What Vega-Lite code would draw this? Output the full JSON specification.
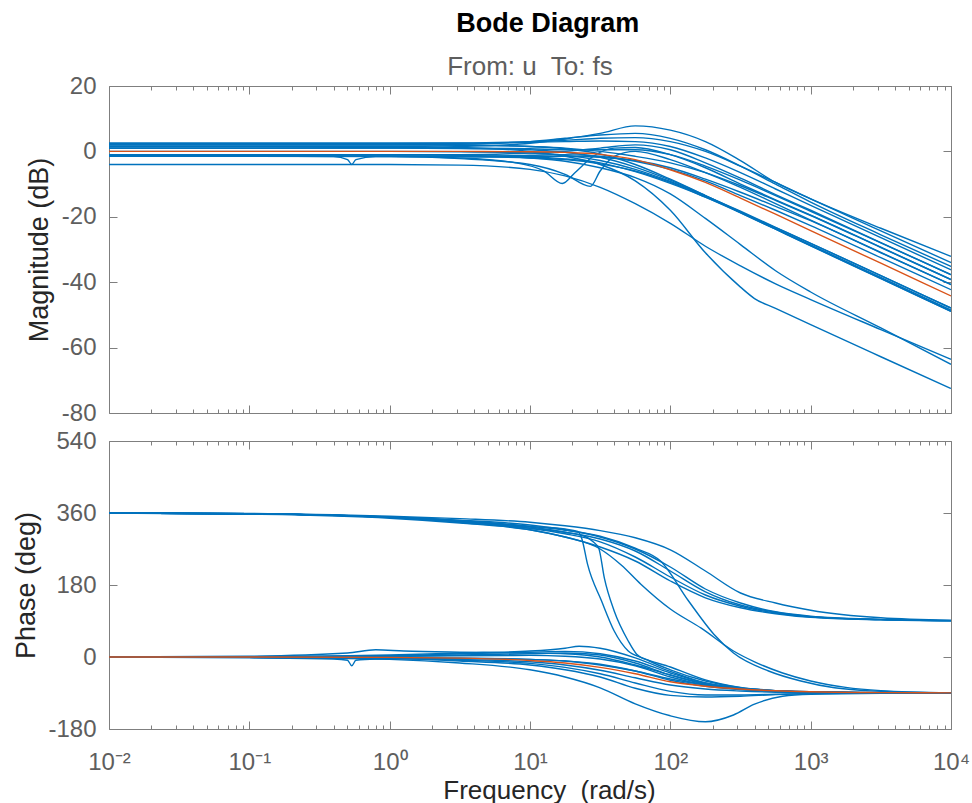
{
"$schema": "https://vega.github.io/schema/vega-lite/v6.json",
"background": "white",
"padding": {"left": 12, "top": 10, "right": 5, "bottom": 0},
"config": {
  "font": "Liberation Sans",
  "view": {"stroke": null},
  "concat": {"spacing": 4},
  "axis": {"domainColor": "#7f7f7f", "tickColor": "#7f7f7f", "domainWidth": 1, "tickWidth": 1, "labelColor": "#5e5e5e", "labelFontSize": 24, "labelFont": "Liberation Sans", "titleFont": "Liberation Sans", "titleFontSize": 27, "titleFontWeight": "normal", "titleColor": "#262626", "grid": false, "labelFlush": false, "labelOverlap": false}
},
"title": {"text": "Bode Diagram", "fontSize": 27, "fontWeight": "bold", "color": "#000000", "anchor": "middle", "offset": 16, "dx": 57, "font": "Liberation Sans"},
"datasets": {
"mag": [
{"s":"m1","f":0.01,"v":1.0},{"s":"m1","f":0.1,"v":1.0},{"s":"m1","f":1,"v":1.2},{"s":"m1","f":3.162,"v":1.5},{"s":"m1","f":10,"v":2.5},{"s":"m1","f":17.78,"v":3.8},{"s":"m1","f":31.62,"v":5.5},{"s":"m1","f":56.23,"v":7.8},{"s":"m1","f":100,"v":6.5},{"s":"m1","f":177.8,"v":3.0},{"s":"m1","f":316.2,"v":-2.8},{"s":"m1","f":562.3,"v":-9.5},{"s":"m1","f":1000,"v":-14.5},{"s":"m1","f":3162,"v":-23.5},{"s":"m1","f":10000,"v":-32.1},
{"s":"m2","f":0.01,"v":2.0},{"s":"m2","f":0.1,"v":2.0},{"s":"m2","f":1,"v":2.0},{"s":"m2","f":3.162,"v":2.2},{"s":"m2","f":10,"v":3.0},{"s":"m2","f":17.78,"v":4.0},{"s":"m2","f":31.62,"v":5.0},{"s":"m2","f":56.23,"v":5.5},{"s":"m2","f":100,"v":4.0},{"s":"m2","f":177.8,"v":0.5},{"s":"m2","f":316.2,"v":-4.5},{"s":"m2","f":562.3,"v":-10},{"s":"m2","f":1000,"v":-15.5},{"s":"m2","f":3162,"v":-25.5},{"s":"m2","f":10000,"v":-35.2},
{"s":"m3","f":0.01,"v":2.5},{"s":"m3","f":0.1,"v":2.5},{"s":"m3","f":1,"v":2.5},{"s":"m3","f":3.162,"v":2.5},{"s":"m3","f":10,"v":2.8},{"s":"m3","f":17.78,"v":3.0},{"s":"m3","f":31.62,"v":3.2},{"s":"m3","f":56.23,"v":3.0},{"s":"m3","f":100,"v":1.5},{"s":"m3","f":177.8,"v":-2.0},{"s":"m3","f":316.2,"v":-6.5},{"s":"m3","f":562.3,"v":-11.5},{"s":"m3","f":1000,"v":-16.5},{"s":"m3","f":3162,"v":-26.4},{"s":"m3","f":10000,"v":-36.2},
{"s":"m4","f":0.01,"v":1.0},{"s":"m4","f":0.1,"v":1.0},{"s":"m4","f":1,"v":1.0},{"s":"m4","f":3.162,"v":1.0},{"s":"m4","f":10,"v":0.8},{"s":"m4","f":17.78,"v":0.5},{"s":"m4","f":31.62,"v":0.5},{"s":"m4","f":56.23,"v":0.5},{"s":"m4","f":100,"v":-1.0},{"s":"m4","f":177.8,"v":-4.5},{"s":"m4","f":316.2,"v":-8.8},{"s":"m4","f":562.3,"v":-13.5},{"s":"m4","f":1000,"v":-18.3},{"s":"m4","f":3162,"v":-28.0},{"s":"m4","f":10000,"v":-37.7},
{"s":"m5","f":0.01,"v":-1.0},{"s":"m5","f":0.1,"v":-1.0},{"s":"m5","f":1,"v":-1.0},{"s":"m5","f":3.162,"v":-1.0},{"s":"m5","f":10,"v":-0.5},{"s":"m5","f":17.78,"v":0},{"s":"m5","f":31.62,"v":1.0},{"s":"m5","f":56.23,"v":2.0},{"s":"m5","f":100,"v":0.5},{"s":"m5","f":177.8,"v":-3.5},{"s":"m5","f":316.2,"v":-8.2},{"s":"m5","f":562.3,"v":-13.2},{"s":"m5","f":1000,"v":-18.0},{"s":"m5","f":3162,"v":-27.9},{"s":"m5","f":10000,"v":-37.7},
{"s":"m6","f":0.01,"v":2.0},{"s":"m6","f":0.1,"v":2.0},{"s":"m6","f":1,"v":2.0},{"s":"m6","f":3.162,"v":2.0},{"s":"m6","f":10,"v":1.5},{"s":"m6","f":17.78,"v":1.0},{"s":"m6","f":31.62,"v":0},{"s":"m6","f":56.23,"v":-1.5},{"s":"m6","f":100,"v":-3.5},{"s":"m6","f":177.8,"v":-6.5},{"s":"m6","f":316.2,"v":-10.5},{"s":"m6","f":562.3,"v":-15.0},{"s":"m6","f":1000,"v":-19.6},{"s":"m6","f":3162,"v":-29.4},{"s":"m6","f":10000,"v":-39.2},
{"s":"m7","f":0.01,"v":-1.5},{"s":"m7","f":0.1,"v":-1.5},{"s":"m7","f":0.398,"v":-1.6},{"s":"m7","f":0.501,"v":-2.5},{"s":"m7","f":0.537,"v":-4},{"s":"m7","f":0.575,"v":-2.5},{"s":"m7","f":0.794,"v":-1.6},{"s":"m7","f":3.162,"v":-1.5},{"s":"m7","f":10,"v":-1.5},{"s":"m7","f":17.78,"v":-1.5},{"s":"m7","f":31.62,"v":-1.8},{"s":"m7","f":56.23,"v":-2.8},{"s":"m7","f":100,"v":-5},{"s":"m7","f":177.8,"v":-8.5},{"s":"m7","f":316.2,"v":-12.5},{"s":"m7","f":562.3,"v":-16.8},{"s":"m7","f":1000,"v":-21.2},{"s":"m7","f":3162,"v":-31},{"s":"m7","f":10000,"v":-40.7},
{"s":"m8","f":0.01,"v":-1.5},{"s":"m8","f":0.1,"v":-1.5},{"s":"m8","f":1,"v":-1.5},{"s":"m8","f":3.162,"v":-1.5},{"s":"m8","f":10,"v":-1.2},{"s":"m8","f":17.78,"v":-1.0},{"s":"m8","f":31.62,"v":-1.5},{"s":"m8","f":56.23,"v":-3.0},{"s":"m8","f":100,"v":-5.5},{"s":"m8","f":177.8,"v":-9.0},{"s":"m8","f":316.2,"v":-13.5},{"s":"m8","f":562.3,"v":-18.0},{"s":"m8","f":1000,"v":-22.7},{"s":"m8","f":3162,"v":-32.5},{"s":"m8","f":10000,"v":-42.3},
{"s":"m9","f":0.01,"v":-1.5},{"s":"m9","f":0.1,"v":-1.5},{"s":"m9","f":1,"v":-1.5},{"s":"m9","f":3.162,"v":-2},{"s":"m9","f":7.943,"v":-3.5},{"s":"m9","f":12.59,"v":-6},{"s":"m9","f":16.98,"v":-9.8},{"s":"m9","f":20.89,"v":-6.5},{"s":"m9","f":28.18,"v":-1.5},{"s":"m9","f":39.81,"v":1.0},{"s":"m9","f":56.23,"v":1.2},{"s":"m9","f":100,"v":-1},{"s":"m9","f":177.8,"v":-5},{"s":"m9","f":316.2,"v":-10},{"s":"m9","f":562.3,"v":-14.8},{"s":"m9","f":1000,"v":-19.5},{"s":"m9","f":3162,"v":-29.3},{"s":"m9","f":10000,"v":-39.2},
{"s":"m10","f":0.01,"v":-1.5},{"s":"m10","f":0.1,"v":-1.5},{"s":"m10","f":1,"v":-1.6},{"s":"m10","f":3.162,"v":-2.2},{"s":"m10","f":10,"v":-4},{"s":"m10","f":17.78,"v":-7},{"s":"m10","f":26.92,"v":-10.7},{"s":"m10","f":31.62,"v":-6},{"s":"m10","f":39.81,"v":-1.5},{"s":"m10","f":56.23,"v":0},{"s":"m10","f":100,"v":-2.5},{"s":"m10","f":177.8,"v":-6.5},{"s":"m10","f":316.2,"v":-11},{"s":"m10","f":562.3,"v":-16},{"s":"m10","f":1000,"v":-21},{"s":"m10","f":3162,"v":-30.9},{"s":"m10","f":10000,"v":-40.7},
{"s":"m11","f":0.01,"v":0},{"s":"m11","f":0.1,"v":0},{"s":"m11","f":1,"v":0},{"s":"m11","f":3.162,"v":-0.1},{"s":"m11","f":10,"v":-0.5},{"s":"m11","f":17.78,"v":-1.2},{"s":"m11","f":31.62,"v":-2.8},{"s":"m11","f":56.23,"v":-5.5},{"s":"m11","f":100,"v":-9.2},{"s":"m11","f":177.8,"v":-13.6},{"s":"m11","f":316.2,"v":-18.3},{"s":"m11","f":562.3,"v":-23.2},{"s":"m11","f":1000,"v":-28.1},{"s":"m11","f":3162,"v":-38},{"s":"m11","f":10000,"v":-47.9},
{"s":"m12","f":0.01,"v":-1.5},{"s":"m12","f":0.1,"v":-1.5},{"s":"m12","f":1,"v":-1.5},{"s":"m12","f":3.162,"v":-1.6},{"s":"m12","f":10,"v":-2},{"s":"m12","f":17.78,"v":-2.5},{"s":"m12","f":31.62,"v":-3.8},{"s":"m12","f":56.23,"v":-6},{"s":"m12","f":100,"v":-9.5},{"s":"m12","f":177.8,"v":-14},{"s":"m12","f":316.2,"v":-18.8},{"s":"m12","f":562.3,"v":-23.8},{"s":"m12","f":1000,"v":-28.8},{"s":"m12","f":3162,"v":-38.8},{"s":"m12","f":10000,"v":-48.9},
{"s":"m13","f":0.01,"v":2},{"s":"m13","f":0.1,"v":2},{"s":"m13","f":1,"v":2},{"s":"m13","f":3.162,"v":1.9},{"s":"m13","f":10,"v":1.5},{"s":"m13","f":17.78,"v":0.8},{"s":"m13","f":31.62,"v":-0.8},{"s":"m13","f":56.23,"v":-4},{"s":"m13","f":100,"v":-8.5},{"s":"m13","f":177.8,"v":-13.5},{"s":"m13","f":316.2,"v":-18.7},{"s":"m13","f":562.3,"v":-23.8},{"s":"m13","f":1000,"v":-28.9},{"s":"m13","f":3162,"v":-38.9},{"s":"m13","f":10000,"v":-48.9},
{"s":"m14","f":0.01,"v":1},{"s":"m14","f":0.1,"v":1},{"s":"m14","f":1,"v":1},{"s":"m14","f":3.162,"v":0.9},{"s":"m14","f":10,"v":0.5},{"s":"m14","f":17.78,"v":-0.3},{"s":"m14","f":31.62,"v":-1.8},{"s":"m14","f":56.23,"v":-4.8},{"s":"m14","f":100,"v":-8.8},{"s":"m14","f":177.8,"v":-13.5},{"s":"m14","f":316.2,"v":-18.5},{"s":"m14","f":562.3,"v":-23.6},{"s":"m14","f":1000,"v":-28.6},{"s":"m14","f":3162,"v":-38.5},{"s":"m14","f":10000,"v":-48.5},
{"s":"m15","f":0.01,"v":2.5},{"s":"m15","f":0.1,"v":2.5},{"s":"m15","f":1,"v":2.5},{"s":"m15","f":3.162,"v":2.6},{"s":"m15","f":10,"v":3.0},{"s":"m15","f":17.78,"v":3.4},{"s":"m15","f":31.62,"v":4.0},{"s":"m15","f":56.23,"v":4.2},{"s":"m15","f":100,"v":3.0},{"s":"m15","f":177.8,"v":0},{"s":"m15","f":316.2,"v":-4.5},{"s":"m15","f":562.3,"v":-9.5},{"s":"m15","f":1000,"v":-14.5},{"s":"m15","f":3162,"v":-24.3},{"s":"m15","f":10000,"v":-34.0},
{"s":"m16","f":0.01,"v":-1.5},{"s":"m16","f":0.1,"v":-1.5},{"s":"m16","f":1,"v":-1.5},{"s":"m16","f":3.162,"v":-1.6},{"s":"m16","f":10,"v":-1.8},{"s":"m16","f":17.78,"v":-2.3},{"s":"m16","f":31.62,"v":-3.5},{"s":"m16","f":56.23,"v":-6.2},{"s":"m16","f":100,"v":-9.8},{"s":"m16","f":177.8,"v":-14},{"s":"m16","f":316.2,"v":-18.6},{"s":"m16","f":562.3,"v":-23.3},{"s":"m16","f":1000,"v":-28.1},{"s":"m16","f":3162,"v":-38},{"s":"m16","f":10000,"v":-47.9},
{"s":"c1","f":0.01,"v":1.5},{"s":"c1","f":0.1,"v":1.5},{"s":"c1","f":1,"v":1.5},{"s":"c1","f":3.162,"v":1.2},{"s":"c1","f":10,"v":0},{"s":"c1","f":17.78,"v":-1.5},{"s":"c1","f":31.62,"v":-4},{"s":"c1","f":56.23,"v":-9},{"s":"c1","f":100,"v":-18},{"s":"c1","f":177.8,"v":-31},{"s":"c1","f":316.2,"v":-41.5},{"s":"c1","f":398.1,"v":-45},{"s":"c1","f":562.3,"v":-48},{"s":"c1","f":1000,"v":-53},{"s":"c1","f":3162,"v":-62.8},{"s":"c1","f":10000,"v":-72.5},
{"s":"c2","f":0.01,"v":-4},{"s":"c2","f":0.1,"v":-4},{"s":"c2","f":1,"v":-4},{"s":"c2","f":3.162,"v":-4.2},{"s":"c2","f":10,"v":-5.5},{"s":"c2","f":17.78,"v":-7.5},{"s":"c2","f":31.62,"v":-11},{"s":"c2","f":56.23,"v":-16},{"s":"c2","f":100,"v":-22},{"s":"c2","f":177.8,"v":-29},{"s":"c2","f":316.2,"v":-35},{"s":"c2","f":562.3,"v":-40.5},{"s":"c2","f":1000,"v":-45.3},{"s":"c2","f":3162,"v":-54.5},{"s":"c2","f":10000,"v":-63.6},
{"s":"c3","f":0.01,"v":-1},{"s":"c3","f":0.1,"v":-1},{"s":"c3","f":1,"v":-1},{"s":"c3","f":3.162,"v":-1.2},{"s":"c3","f":10,"v":-2},{"s":"c3","f":17.78,"v":-3},{"s":"c3","f":31.62,"v":-5},{"s":"c3","f":56.23,"v":-8},{"s":"c3","f":100,"v":-13},{"s":"c3","f":177.8,"v":-20.5},{"s":"c3","f":316.2,"v":-28.5},{"s":"c3","f":562.3,"v":-36.5},{"s":"c3","f":1000,"v":-43},{"s":"c3","f":3162,"v":-54},{"s":"c3","f":10000,"v":-65.1},
{"s":"nom","f":0.01,"v":0},{"s":"nom","f":0.1,"v":0},{"s":"nom","f":1,"v":0},{"s":"nom","f":3.162,"v":0},{"s":"nom","f":10,"v":-0.1},{"s":"nom","f":17.78,"v":-0.3},{"s":"nom","f":31.62,"v":-0.9},{"s":"nom","f":56.23,"v":-2.5},{"s":"nom","f":100,"v":-5.6},{"s":"nom","f":177.8,"v":-9.5},{"s":"nom","f":316.2,"v":-14.3},{"s":"nom","f":562.3,"v":-19.2},{"s":"nom","f":1000,"v":-24.2},{"s":"nom","f":3162,"v":-34.2},{"s":"nom","f":10000,"v":-44.2}
],
"phase": [
{"s":"p1","f":0.01,"v":0},{"s":"p1","f":0.1,"v":0.5},{"s":"p1","f":1,"v":5},{"s":"p1","f":3.162,"v":10},{"s":"p1","f":10,"v":15},{"s":"p1","f":17.78,"v":22},{"s":"p1","f":22.39,"v":27},{"s":"p1","f":31.62,"v":22},{"s":"p1","f":56.23,"v":-2},{"s":"p1","f":100,"v":-36},{"s":"p1","f":177.8,"v":-65},{"s":"p1","f":316.2,"v":-78},{"s":"p1","f":562.3,"v":-84},{"s":"p1","f":1000,"v":-87},{"s":"p1","f":3162,"v":-89.3},{"s":"p1","f":10000,"v":-90},
{"s":"p2","f":0.01,"v":0},{"s":"p2","f":0.1,"v":2},{"s":"p2","f":0.501,"v":10},{"s":"p2","f":0.794,"v":18},{"s":"p2","f":1.259,"v":15},{"s":"p2","f":3.162,"v":12},{"s":"p2","f":10,"v":10},{"s":"p2","f":17.78,"v":8},{"s":"p2","f":31.62,"v":0},{"s":"p2","f":56.23,"v":-20},{"s":"p2","f":100,"v":-45},{"s":"p2","f":177.8,"v":-66},{"s":"p2","f":316.2,"v":-78},{"s":"p2","f":562.3,"v":-84},{"s":"p2","f":1000,"v":-87},{"s":"p2","f":3162,"v":-89.3},{"s":"p2","f":10000,"v":-90},
{"s":"p3","f":0.01,"v":0},{"s":"p3","f":0.1,"v":-2},{"s":"p3","f":0.398,"v":-5},{"s":"p3","f":0.501,"v":-8},{"s":"p3","f":0.537,"v":-22},{"s":"p3","f":0.575,"v":-8},{"s":"p3","f":0.794,"v":-5},{"s":"p3","f":3.162,"v":-3},{"s":"p3","f":10,"v":-6},{"s":"p3","f":17.78,"v":-10},{"s":"p3","f":31.62,"v":-20},{"s":"p3","f":56.23,"v":-35},{"s":"p3","f":100,"v":-55},{"s":"p3","f":177.8,"v":-70},{"s":"p3","f":316.2,"v":-80},{"s":"p3","f":562.3,"v":-85},{"s":"p3","f":1000,"v":-88},{"s":"p3","f":3162,"v":-89.5},{"s":"p3","f":10000,"v":-90},
{"s":"p4","f":0.01,"v":0},{"s":"p4","f":0.1,"v":-1},{"s":"p4","f":1,"v":-6},{"s":"p4","f":3.162,"v":-15},{"s":"p4","f":10,"v":-32},{"s":"p4","f":17.78,"v":-50},{"s":"p4","f":31.62,"v":-77},{"s":"p4","f":56.23,"v":-117},{"s":"p4","f":100,"v":-147},{"s":"p4","f":177.8,"v":-162},{"s":"p4","f":281.8,"v":-145},{"s":"p4","f":398.1,"v":-118},{"s":"p4","f":631,"v":-98},{"s":"p4","f":1000,"v":-93},{"s":"p4","f":3162,"v":-90.5},{"s":"p4","f":10000,"v":-90},
{"s":"p5","f":0.01,"v":0},{"s":"p5","f":0.1,"v":-1},{"s":"p5","f":1,"v":-4},{"s":"p5","f":3.162,"v":-10},{"s":"p5","f":10,"v":-20},{"s":"p5","f":17.78,"v":-32},{"s":"p5","f":31.62,"v":-50},{"s":"p5","f":56.23,"v":-78},{"s":"p5","f":100,"v":-96},{"s":"p5","f":177.8,"v":-100},{"s":"p5","f":316.2,"v":-98},{"s":"p5","f":562.3,"v":-94},{"s":"p5","f":1000,"v":-91.5},{"s":"p5","f":3162,"v":-90.3},{"s":"p5","f":10000,"v":-90},
{"s":"p6","f":0.01,"v":0},{"s":"p6","f":0.1,"v":-1},{"s":"p6","f":1,"v":-3},{"s":"p6","f":3.162,"v":-8},{"s":"p6","f":10,"v":-16},{"s":"p6","f":17.78,"v":-26},{"s":"p6","f":31.62,"v":-42},{"s":"p6","f":56.23,"v":-65},{"s":"p6","f":100,"v":-86},{"s":"p6","f":177.8,"v":-95},{"s":"p6","f":316.2,"v":-95},{"s":"p6","f":562.3,"v":-93},{"s":"p6","f":1000,"v":-91},{"s":"p6","f":3162,"v":-90.2},{"s":"p6","f":10000,"v":-90},
{"s":"p7","f":0.01,"v":0},{"s":"p7","f":0.1,"v":0},{"s":"p7","f":1,"v":2},{"s":"p7","f":3.162,"v":5},{"s":"p7","f":10,"v":8},{"s":"p7","f":17.78,"v":10},{"s":"p7","f":31.62,"v":5},{"s":"p7","f":56.23,"v":-15},{"s":"p7","f":100,"v":-45},{"s":"p7","f":177.8,"v":-68},{"s":"p7","f":316.2,"v":-80},{"s":"p7","f":562.3,"v":-85},{"s":"p7","f":1000,"v":-88},{"s":"p7","f":3162,"v":-89.5},{"s":"p7","f":10000,"v":-90},
{"s":"p8","f":0.01,"v":0},{"s":"p8","f":0.1,"v":0},{"s":"p8","f":1,"v":-1},{"s":"p8","f":3.162,"v":-3},{"s":"p8","f":10,"v":-6},{"s":"p8","f":17.78,"v":-10},{"s":"p8","f":31.62,"v":-18},{"s":"p8","f":56.23,"v":-35},{"s":"p8","f":100,"v":-58},{"s":"p8","f":177.8,"v":-73},{"s":"p8","f":316.2,"v":-81},{"s":"p8","f":562.3,"v":-86},{"s":"p8","f":1000,"v":-88},{"s":"p8","f":3162,"v":-89.6},{"s":"p8","f":10000,"v":-90},
{"s":"p9","f":0.01,"v":0},{"s":"p9","f":0.1,"v":0.5},{"s":"p9","f":1,"v":3},{"s":"p9","f":3.162,"v":8},{"s":"p9","f":10,"v":12},{"s":"p9","f":17.78,"v":14},{"s":"p9","f":31.62,"v":8},{"s":"p9","f":56.23,"v":-10},{"s":"p9","f":100,"v":-40},{"s":"p9","f":177.8,"v":-65},{"s":"p9","f":316.2,"v":-79},{"s":"p9","f":562.3,"v":-85},{"s":"p9","f":1000,"v":-88},{"s":"p9","f":3162,"v":-89.5},{"s":"p9","f":10000,"v":-90},
{"s":"p10","f":0.01,"v":0},{"s":"p10","f":0.1,"v":-0.5},{"s":"p10","f":1,"v":-2},{"s":"p10","f":3.162,"v":-6},{"s":"p10","f":10,"v":-12},{"s":"p10","f":17.78,"v":-20},{"s":"p10","f":31.62,"v":-33},{"s":"p10","f":56.23,"v":-52},{"s":"p10","f":100,"v":-70},{"s":"p10","f":177.8,"v":-80},{"s":"p10","f":316.2,"v":-85},{"s":"p10","f":562.3,"v":-88},{"s":"p10","f":1000,"v":-89},{"s":"p10","f":3162,"v":-89.8},{"s":"p10","f":10000,"v":-90},
{"s":"p11","f":0.01,"v":0},{"s":"p11","f":0.1,"v":0},{"s":"p11","f":1,"v":1},{"s":"p11","f":3.162,"v":3},{"s":"p11","f":10,"v":4},{"s":"p11","f":17.78,"v":2},{"s":"p11","f":31.62,"v":-5},{"s":"p11","f":56.23,"v":-22},{"s":"p11","f":100,"v":-50},{"s":"p11","f":177.8,"v":-70},{"s":"p11","f":316.2,"v":-81},{"s":"p11","f":562.3,"v":-86},{"s":"p11","f":1000,"v":-88.5},{"s":"p11","f":3162,"v":-89.6},{"s":"p11","f":10000,"v":-90},
{"s":"u1","f":0.01,"v":360},{"s":"u1","f":0.1,"v":359},{"s":"u1","f":1,"v":352},{"s":"u1","f":3.162,"v":346},{"s":"u1","f":10,"v":337},{"s":"u1","f":17.78,"v":328},{"s":"u1","f":31.62,"v":316},{"s":"u1","f":56.23,"v":298},{"s":"u1","f":100,"v":268},{"s":"u1","f":177.8,"v":215},{"s":"u1","f":316.2,"v":160},{"s":"u1","f":562.3,"v":135},{"s":"u1","f":1000,"v":117},{"s":"u1","f":3162,"v":98},{"s":"u1","f":10000,"v":92},
{"s":"u2","f":0.01,"v":360},{"s":"u2","f":0.1,"v":358},{"s":"u2","f":1,"v":350},{"s":"u2","f":3.162,"v":342},{"s":"u2","f":10,"v":330},{"s":"u2","f":17.78,"v":318},{"s":"u2","f":31.62,"v":300},{"s":"u2","f":56.23,"v":270},{"s":"u2","f":100,"v":225},{"s":"u2","f":177.8,"v":170},{"s":"u2","f":316.2,"v":135},{"s":"u2","f":562.3,"v":113},{"s":"u2","f":1000,"v":102},{"s":"u2","f":3162,"v":94},{"s":"u2","f":10000,"v":91},
{"s":"u3","f":0.01,"v":360},{"s":"u3","f":0.1,"v":358},{"s":"u3","f":1,"v":349},{"s":"u3","f":3.162,"v":338},{"s":"u3","f":10,"v":322},{"s":"u3","f":17.78,"v":308},{"s":"u3","f":31.62,"v":288},{"s":"u3","f":56.23,"v":250},{"s":"u3","f":100,"v":200},{"s":"u3","f":177.8,"v":155},{"s":"u3","f":316.2,"v":127},{"s":"u3","f":562.3,"v":110},{"s":"u3","f":1000,"v":100},{"s":"u3","f":3162,"v":93.5},{"s":"u3","f":10000,"v":90.5},
{"s":"u4","f":0.01,"v":360},{"s":"u4","f":0.1,"v":357},{"s":"u4","f":1,"v":347},{"s":"u4","f":3.162,"v":335},{"s":"u4","f":10,"v":318},{"s":"u4","f":17.78,"v":300},{"s":"u4","f":31.62,"v":275},{"s":"u4","f":56.23,"v":240},{"s":"u4","f":100,"v":190},{"s":"u4","f":177.8,"v":148},{"s":"u4","f":316.2,"v":123},{"s":"u4","f":562.3,"v":108},{"s":"u4","f":1000,"v":99},{"s":"u4","f":3162,"v":93},{"s":"u4","f":10000,"v":90.5},
{"s":"u5","f":0.01,"v":360},{"s":"u5","f":0.1,"v":358},{"s":"u5","f":1,"v":350},{"s":"u5","f":3.162,"v":340},{"s":"u5","f":10,"v":325},{"s":"u5","f":17.78,"v":312},{"s":"u5","f":31.62,"v":295},{"s":"u5","f":56.23,"v":265},{"s":"u5","f":100,"v":215},{"s":"u5","f":177.8,"v":163},{"s":"u5","f":316.2,"v":130},{"s":"u5","f":562.3,"v":112},{"s":"u5","f":1000,"v":101},{"s":"u5","f":3162,"v":93.5},{"s":"u5","f":10000,"v":91},
{"s":"s1","f":0.01,"v":360},{"s":"s1","f":0.1,"v":358},{"s":"s1","f":1,"v":350},{"s":"s1","f":3.162,"v":340},{"s":"s1","f":10,"v":326},{"s":"s1","f":17.78,"v":320},{"s":"s1","f":21.88,"v":314},{"s":"s1","f":23.44,"v":295},{"s":"s1","f":25.7,"v":232},{"s":"s1","f":32.36,"v":140},{"s":"s1","f":39.81,"v":65},{"s":"s1","f":50.12,"v":15},{"s":"s1","f":63.1,"v":-2},{"s":"s1","f":100,"v":-25},{"s":"s1","f":177.8,"v":-57},{"s":"s1","f":316.2,"v":-76},{"s":"s1","f":562.3,"v":-84},{"s":"s1","f":1000,"v":-87.5},{"s":"s1","f":3162,"v":-89.5},{"s":"s1","f":10000,"v":-90},
{"s":"s2","f":0.01,"v":360},{"s":"s2","f":0.1,"v":358},{"s":"s2","f":1,"v":349},{"s":"s2","f":3.162,"v":338},{"s":"s2","f":10,"v":322},{"s":"s2","f":17.78,"v":312},{"s":"s2","f":25.12,"v":300},{"s":"s2","f":28.18,"v":288},{"s":"s2","f":30.9,"v":272},{"s":"s2","f":33.88,"v":197},{"s":"s2","f":39.81,"v":115},{"s":"s2","f":50.12,"v":40},{"s":"s2","f":57.54,"v":7},{"s":"s2","f":70.79,"v":-10},{"s":"s2","f":100,"v":-32},{"s":"s2","f":177.8,"v":-60},{"s":"s2","f":316.2,"v":-77},{"s":"s2","f":562.3,"v":-84.5},{"s":"s2","f":1000,"v":-88},{"s":"s2","f":3162,"v":-89.5},{"s":"s2","f":10000,"v":-90},
{"s":"d1","f":0.01,"v":360},{"s":"d1","f":0.1,"v":358},{"s":"d1","f":1,"v":350},{"s":"d1","f":3.162,"v":341},{"s":"d1","f":10,"v":327},{"s":"d1","f":17.78,"v":317},{"s":"d1","f":31.62,"v":302},{"s":"d1","f":56.23,"v":272},{"s":"d1","f":85.1,"v":240},{"s":"d1","f":134.9,"v":140},{"s":"d1","f":204.2,"v":57},{"s":"d1","f":281.8,"v":10},{"s":"d1","f":501.2,"v":-35},{"s":"d1","f":851.1,"v":-60},{"s":"d1","f":1479,"v":-77},{"s":"d1","f":3162,"v":-86},{"s":"d1","f":10000,"v":-89.5},
{"s":"d2","f":0.01,"v":360},{"s":"d2","f":0.1,"v":358},{"s":"d2","f":1,"v":349},{"s":"d2","f":3.162,"v":337},{"s":"d2","f":10,"v":318},{"s":"d2","f":17.78,"v":300},{"s":"d2","f":31.62,"v":270},{"s":"d2","f":44.67,"v":230},{"s":"d2","f":61.66,"v":182},{"s":"d2","f":100,"v":120},{"s":"d2","f":166,"v":72},{"s":"d2","f":281.8,"v":15},{"s":"d2","f":398.1,"v":-12},{"s":"d2","f":631,"v":-40},{"s":"d2","f":1000,"v":-60},{"s":"d2","f":1778,"v":-76},{"s":"d2","f":3162,"v":-84},{"s":"d2","f":10000,"v":-89.5},
{"s":"nom","f":0.01,"v":0},{"s":"nom","f":0.1,"v":0},{"s":"nom","f":1,"v":-0.9},{"s":"nom","f":3.162,"v":-2.7},{"s":"nom","f":10,"v":-8.6},{"s":"nom","f":17.78,"v":-15},{"s":"nom","f":31.62,"v":-26},{"s":"nom","f":56.23,"v":-42},{"s":"nom","f":100,"v":-62},{"s":"nom","f":177.8,"v":-73},{"s":"nom","f":316.2,"v":-80},{"s":"nom","f":562.3,"v":-84.5},{"s":"nom","f":1000,"v":-87},{"s":"nom","f":3162,"v":-89},{"s":"nom","f":10000,"v":-89.7}
]
},
"vconcat": [
{
  "width": 842, "height": 327,
  "title": {"text": "From: u\u00a0 To: fs", "fontSize": 26, "fontWeight": "normal", "color": "#5e5e5e", "anchor": "middle", "offset": -6, "font": "Liberation Sans"},
  "data": {"name": "mag"},
  "layer": [
    {"transform": [{"filter": "datum.s != 'nom'"}],
     "mark": {"type": "line", "color": "#0072BD", "strokeWidth": 1.4, "interpolate": "monotone", "clip": true},
     "encoding": {
       "x": {"field": "f", "type": "quantitative", "scale": {"type": "log", "domain": [0.01, 10000], "nice": false},
             "axis": {"orient": "bottom", "values": [0.01,0.02,0.03,0.04,0.05,0.06,0.07,0.08,0.09,0.1,0.2,0.3,0.4,0.5,0.6,0.7,0.8,0.9,1,2,3,4,5,6,7,8,9,10,20,30,40,50,60,70,80,90,100,200,300,400,500,600,700,800,900,1000,2000,3000,4000,5000,6000,7000,8000,9000,10000], "labels": false, "title": null,
                      "tickSize": {"condition": {"test": "abs(log(datum.value)/LN10 - round(log(datum.value)/LN10)) < 0.01", "value": -8}, "value": -4}}},
       "y": {"field": "v", "type": "quantitative", "scale": {"domain": [-80, 20], "nice": false, "zero": false},
             "axis": {"orient": "left", "values": [-80,-60,-40,-20,0,20], "labelExpr": "datum.value + ''", "tickSize": -8, "labelPadding": 21, "title": "Magnitude (dB)", "titleX": -70, "titleY": 163.5, "titleBaseline": "middle"}},
       "detail": {"field": "s"}
     }},
    {"transform": [{"filter": "datum.s == 'nom'"}],
     "mark": {"type": "line", "color": "#D95319", "strokeWidth": 1.4, "interpolate": "monotone", "clip": true},
     "encoding": {
       "x": {"field": "f", "type": "quantitative", "scale": {"type": "log", "domain": [0.01, 10000], "nice": false},
             "axis": {"orient": "top", "values": [0.01,0.02,0.03,0.04,0.05,0.06,0.07,0.08,0.09,0.1,0.2,0.3,0.4,0.5,0.6,0.7,0.8,0.9,1,2,3,4,5,6,7,8,9,10,20,30,40,50,60,70,80,90,100,200,300,400,500,600,700,800,900,1000,2000,3000,4000,5000,6000,7000,8000,9000,10000], "labels": false, "title": null,
                      "tickSize": {"condition": {"test": "abs(log(datum.value)/LN10 - round(log(datum.value)/LN10)) < 0.01", "value": -8}, "value": -4}}},
       "y": {"field": "v", "type": "quantitative", "scale": {"domain": [-80, 20], "nice": false, "zero": false},
             "axis": {"orient": "right", "values": [-80,-60,-40,-20,0,20], "tickSize": -8, "labels": false, "title": null}}
     }}
  ],
  "resolve": {"axis": {"x": "independent", "y": "independent"}}
},
{
  "width": 842, "height": 288,
  "data": {"name": "phase"},
  "layer": [
    {"transform": [{"filter": "datum.s != 'nom'"}],
     "mark": {"type": "line", "color": "#0072BD", "strokeWidth": 1.4, "interpolate": "monotone", "clip": true},
     "encoding": {
       "x": {"field": "f", "type": "quantitative", "scale": {"type": "log", "domain": [0.01, 10000], "nice": false},
             "axis": {"orient": "bottom", "values": [0.01,0.02,0.03,0.04,0.05,0.06,0.07,0.08,0.09,0.1,0.2,0.3,0.4,0.5,0.6,0.7,0.8,0.9,1,2,3,4,5,6,7,8,9,10,20,30,40,50,60,70,80,90,100,200,300,400,500,600,700,800,900,1000,2000,3000,4000,5000,6000,7000,8000,9000,10000],
                      "labelExpr": "abs(log(datum.value)/LN10 - round(log(datum.value)/LN10)) < 0.01 ? ['10⁻²','10⁻¹','10⁰','10¹','10²','10³','10⁴'][round(log(datum.value)/LN10)+2] : ''",
                      "labelBaseline": "alphabetic", "labelPadding": 48,
                      "title": "Frequency\u00a0 (rad/s)", "titleX": 440, "titleY": 69, "titleFontSize": 26, "titleBaseline": "alphabetic",
                      "tickSize": {"condition": {"test": "abs(log(datum.value)/LN10 - round(log(datum.value)/LN10)) < 0.01", "value": -8}, "value": -4}}},
       "y": {"field": "v", "type": "quantitative", "scale": {"domain": [-180, 540], "nice": false, "zero": false},
             "axis": {"orient": "left", "values": [-180,0,180,360,540], "labelExpr": "datum.value + ''", "tickSize": -8, "labelPadding": 21, "title": "Phase (deg)", "titleX": -83, "titleY": 144, "titleBaseline": "middle"}},
       "detail": {"field": "s"}
     }},
    {"transform": [{"filter": "datum.s == 'nom'"}],
     "mark": {"type": "line", "color": "#D95319", "strokeWidth": 1.4, "interpolate": "monotone", "clip": true},
     "encoding": {
       "x": {"field": "f", "type": "quantitative", "scale": {"type": "log", "domain": [0.01, 10000], "nice": false},
             "axis": {"orient": "top", "values": [0.01,0.02,0.03,0.04,0.05,0.06,0.07,0.08,0.09,0.1,0.2,0.3,0.4,0.5,0.6,0.7,0.8,0.9,1,2,3,4,5,6,7,8,9,10,20,30,40,50,60,70,80,90,100,200,300,400,500,600,700,800,900,1000,2000,3000,4000,5000,6000,7000,8000,9000,10000], "labels": false, "title": null,
                      "tickSize": {"condition": {"test": "abs(log(datum.value)/LN10 - round(log(datum.value)/LN10)) < 0.01", "value": -8}, "value": -4}}},
       "y": {"field": "v", "type": "quantitative", "scale": {"domain": [-180, 540], "nice": false, "zero": false},
             "axis": {"orient": "right", "values": [-180,0,180,360,540], "tickSize": -8, "labels": false, "title": null}}
     }}
  ],
  "resolve": {"axis": {"x": "independent", "y": "independent"}}
}
]
}
